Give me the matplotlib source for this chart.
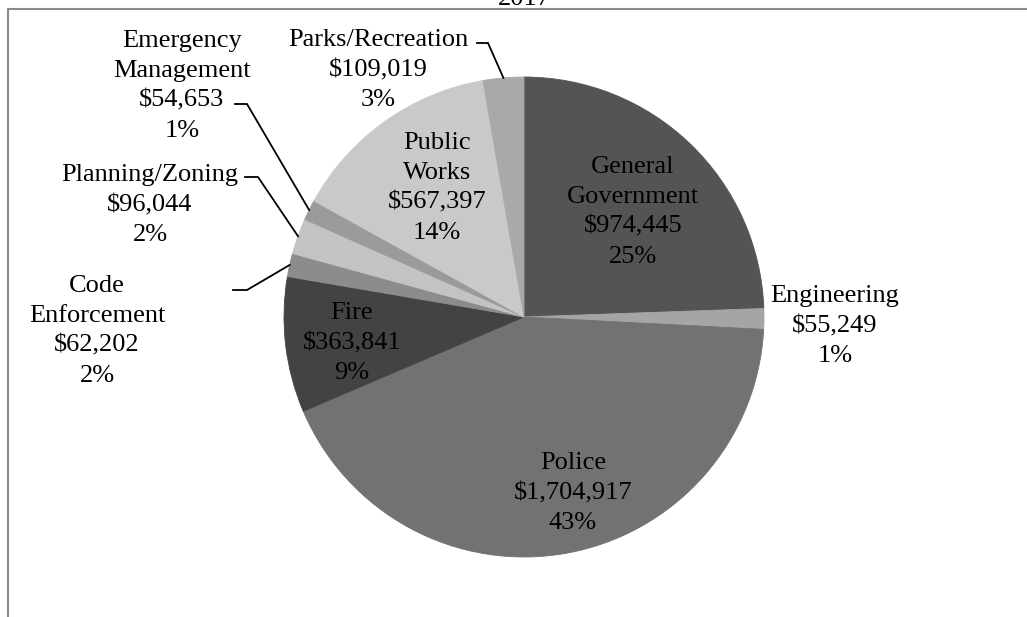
import numpy as np
import matplotlib.pyplot as plt

plt.rcParams['font.family'] = ['Liberation Serif', 'DejaVu Serif']

depts = ["General\nGovernment", "Engineering", "Police", "Fire", "Code\nEnforcement",
         "Planning/Zoning", "Emergency\nManagement", "Public\nWorks", "Parks/Recreation"]
amounts = [974445, 55249, 1704917, 363841, 62202, 96044, 54653, 567397, 109019]
pct_labels = ["25%", "1%", "43%", "9%", "2%", "2%", "1%", "14%", "3%"]
colors = ["#545454", "#a5a5a5", "#727272", "#434343", "#8c8c8c",
          "#c3c3c3", "#9a9a9a", "#c9c9c9", "#a9a9a9"]

# label block centres (x, y) in figure pixels, y measured upwards
label_pos = [(633, 405), (835, 291), (573, 124), (352, 274), (97, 286),
             (150, 412), (182, 531), (437, 429), (378, 547)]
# slices that get a leader line: index -> (elbow start, elbow end)
leaders = {4: ((233, 327), (247, 327)),
           5: ((245, 440), (258, 440)),
           6: ((235, 513), (247, 513)),
           8: ((477, 574), (488, 574))}

W, H = 1027, 617
fig = plt.figure(figsize=(W / 100, H / 100), dpi=100)
ax = fig.add_axes([0, 0, 1, 1])

cx, cy, r = 524, 300, 240
wedges, _ = ax.pie(amounts, colors=colors, startangle=90, counterclock=False,
                   center=(cx, cy), radius=r, wedgeprops=dict(linewidth=0.6))
for w, c in zip(wedges, colors):
    w.set_edgecolor(c)
ax.set_xlim(0, W)
ax.set_ylim(0, H)
ax.set_aspect('equal')
ax.axis('off')

for i, w in enumerate(wedges):
    text = f"{depts[i]}\n${amounts[i]:,}\n{pct_labels[i]}"
    lx, ly = label_pos[i]
    ax.text(lx, ly, text, ha='center', va='center', multialignment='center',
            fontsize=19, linespacing=1.46, parse_math=False, color='black')
    if i in leaders:
        mid = np.deg2rad((w.theta1 + w.theta2) / 2)
        ex, ey = cx + r * np.cos(mid), cy + r * np.sin(mid)
        (x0, y0), (x1, y1) = leaders[i]
        ax.plot([x0, x1, ex], [y0, y1, ey], color='black', lw=1.3,
                solid_joinstyle='miter')

# chart frame (top and left edges visible) and clipped year title
ax.plot([8, 8, W + 5], [-5, 608, 608], color='#8a8a8a', lw=1.5, clip_on=False)
ax.text(cx, 612, "2017", ha='center', va='baseline', fontsize=19)

fig.savefig("out.png", dpi=100)
